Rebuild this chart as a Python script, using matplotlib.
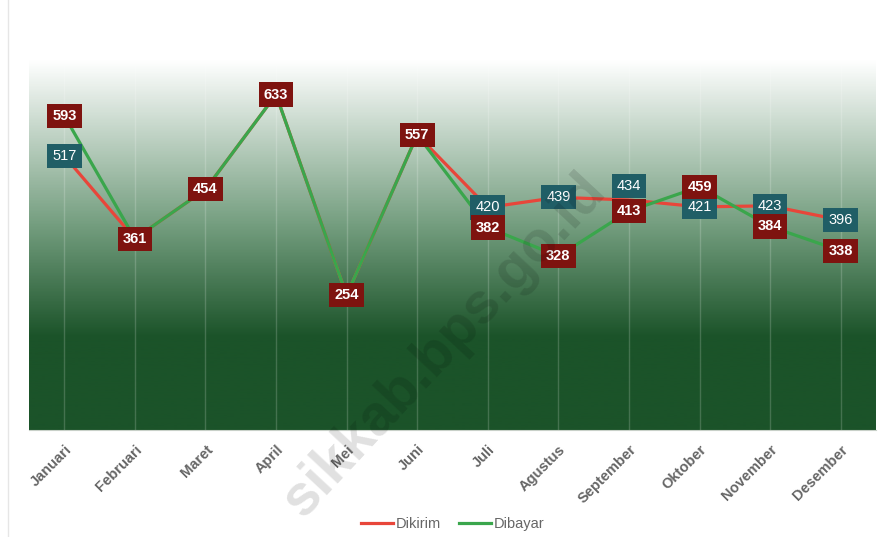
import numpy as np
import matplotlib
matplotlib.use("Agg")
import matplotlib.pyplot as plt
from matplotlib.colors import LinearSegmentedColormap

bulan = ["Januari", "Februari", "Maret", "April", "Mei", "Juni", "Juli",
         "Agustus", "September", "Oktober", "November", "Desember"]
dikirim = [517, 361, 454, 633, 254, 557, 420, 439, 434, 421, 423, 396]
dibayar = [593, 361, 454, 633, 254, 557, 382, 328, 413, 459, 384, 338]
# label shifts (points) to keep overlapping boxes readable
geser_dikirim = [0, 0, 0, 0, 0, 0, 0, 0, 10, 0, 0, 0]

plt.rcParams["font.family"] = ["Liberation Sans", "DejaVu Sans"]

fig = plt.figure(figsize=(8.88, 5.37), dpi=100)
ax = fig.add_axes([29 / 888, 1 - 430 / 537, 847 / 888, 371 / 537])

x = np.arange(len(bulan))
ax.set_xlim(-0.5, len(bulan) - 0.5)
ax.set_ylim(0, 700)

# background gradient: white at top -> dark green, solid in lower part
cmap = LinearSegmentedColormap.from_list(
    "bg", [(0, "#1b5329"), (0.25, "#1b5329"), (0.55, "#739d7e"), (1, "#ffffff")])
grad = np.linspace(0, 1, 400).reshape(-1, 1)
ax.imshow(grad, cmap=cmap, aspect="auto", origin="lower",
          extent=[0, 1, 0, 1], transform=ax.transAxes, zorder=0)

for xi in x:
    ax.axvline(xi, color="white", alpha=0.18, lw=1, zorder=1)

ax.plot(x, dikirim, color="#e8463a", lw=2.3, label="Dikirim", zorder=3)
ax.plot(x, dibayar, color="#3aa64c", lw=2.3, label="Dibayar", zorder=4)

for xi, v, g in zip(x, dikirim, geser_dikirim):
    ax.annotate(str(v), (xi, v), xytext=(0, g), textcoords="offset points",
                ha="center", va="center", color="white", fontsize=10.5, zorder=5,
                bbox=dict(boxstyle="square,pad=0.35", fc="#205e66", ec="none"))
for xi, v in zip(x, dibayar):
    ax.annotate(str(v), (xi, v), ha="center", va="center", color="white",
                fontsize=10.5, fontweight="bold", zorder=6,
                bbox=dict(boxstyle="square,pad=0.35", fc="#7e130f", ec="none"))

ax.set_xticks(x)
ax.set_xticklabels(bulan, rotation=45, ha="right", rotation_mode="anchor",
                   color="#666666", fontweight="bold", fontsize=10.5)
ax.tick_params(axis="x", length=0, pad=9)
ax.set_yticks([])
for s in ["top", "right", "left"]:
    ax.spines[s].set_visible(False)
ax.spines["bottom"].set_color("#c8d0c8")

leg = ax.legend(loc="upper center", bbox_to_anchor=(0.5, -0.2), ncol=2,
                frameon=False, fontsize=10.5, handlelength=2.2, handletextpad=0.2,
                columnspacing=1.2)
for t in leg.get_texts():
    t.set_color("#666666")

fig.add_artist(plt.Line2D([8 / 888, 8 / 888], [0, 1], color="#e6e6e6", lw=1))

fig.text(445 / 888, 1 - 345 / 537, "sikkab.bps.go.id", rotation=47,
         ha="center", va="center", fontsize=41, fontweight="bold",
         color="black", alpha=0.12, zorder=2)

fig.savefig("out.png", dpi=100)
